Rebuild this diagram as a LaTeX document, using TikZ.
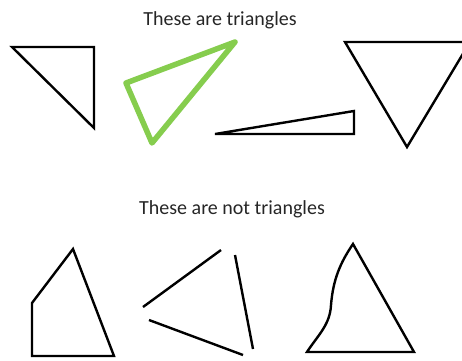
\documentclass[tikz,border=0pt]{standalone}
\usepackage{fontspec}
\setmainfont{Carlito}
\usepackage{tikz}
\definecolor{Ink}{HTML}{000000}
\definecolor{Caption}{HTML}{262626}
\definecolor{Lime}{HTML}{86CD4E}
\tikzset{
  caption/.style={font=\fontsize{20}{24}\selectfont,text=Caption,inner sep=0pt,anchor=base},
  outline/.style={draw=Ink,line width=2.4pt,line join=miter},
  greenoutline/.style={draw=Lime,line width=5.5pt,line join=round,line cap=round}
}

\begin{document}
\begin{tikzpicture}[x=1pt,y=-1pt]
  \useasboundingbox (0,0) rectangle (462,360);
  \clip (0,0) rectangle (462,360);
  % captions
  \node[caption] (yes) at (220,25) {These are triangles};
  \node[caption] (no) at (232,214) {These are not triangles};
  % triangles
  \draw[outline] (12,47) -- (94,47) -- (94,128) -- cycle;
  \draw[greenoutline] (126,83) -- (235,42) -- (152,143) -- cycle;
  \draw[outline] (215,134) -- (354,111) -- (354,134) -- cycle;
  \draw[outline] (345,42) -- (470,42) -- (407,147) -- cycle;
  % not triangles
  \draw[outline] (73,249) -- (32,303) -- (32,356) -- (114,356) -- cycle;
  \draw[outline] (143,307) -- (221,250);
  \draw[outline] (149,320) -- (243,355);
  \draw[outline] (235,255) -- (253,349);
  \draw[outline] (353,244) -- (414,352) -- (307,352)
    .. controls (318,335) and (330,325) .. (331,305)
    .. controls (333,280) and (340,263) .. cycle;
\end{tikzpicture}
\end{document}
